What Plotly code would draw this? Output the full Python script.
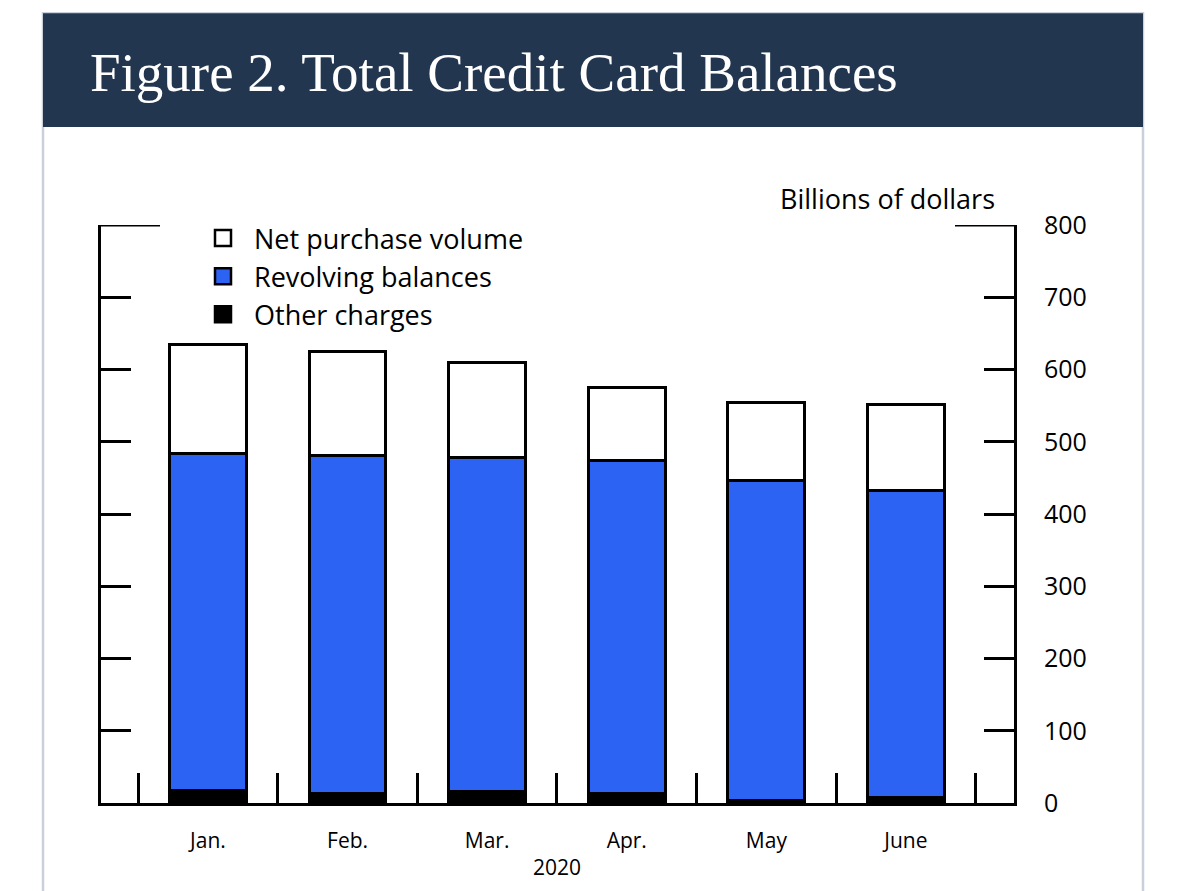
"""Figure 2. Total Credit Card Balances, stacked bars.
"""

import plotly.graph_objects as go

months = ['Jan.', 'Feb.', 'Mar.', 'Apr.', 'May', 'June']
other_charges = [17, 13, 16, 13, 3, 7]
revolving = [467, 468, 462, 461, 444, 426]
net_purchase = [151, 144, 132, 101, 107, 118]
y_ticks = [0, 100, 200, 300, 400, 500, 600, 700, 800]

BLUE = '#2d63f2'
NAVY = '#22364f'
FONT = 'Open Sans, sans-serif'

# page pixels of the plot area (page body has an 8px margin)
OFF = 8
W, H = 1200, 891
L, R, T, B = 101, 1014, 225, 803.5


def px(x):
    return (x - L) / (R - L)


def py(y):
    return (B - y) / (B - T)


fig = go.Figure()
fig.add_bar(x=months, y=other_charges, name='Other charges', showlegend=False,
            marker=dict(color='black', line=dict(color='black', width=3)))
fig.add_bar(x=months, y=revolving, name='Revolving balances', showlegend=False,
            marker=dict(color=BLUE, line=dict(color='black', width=3)))
fig.add_bar(x=months, y=net_purchase, name='Net purchase volume', showlegend=False,
            marker=dict(color='white', line=dict(color='black', width=3)))

# legend entries with larger square keys
for name, color in [('Net purchase volume', 'white'), ('Revolving balances', BLUE),
                    ('Other charges', 'black')]:
    fig.add_scatter(x=[None], y=[None], mode='markers', name=name,
                    marker=dict(symbol='square', size=21, color=color,
                                line=dict(color='black', width=2.5)))

fig.update_layout(
    width=W, height=H,
    margin=dict(l=L - OFF, r=W - (R - OFF), t=T - OFF, b=H - (B - OFF), pad=0),
    paper_bgcolor='white', plot_bgcolor='white',
    barmode='stack', bargap=0.45,
    font=dict(family=FONT, color='black'),
    legend=dict(x=px(192), y=py(214), xanchor='left', yanchor='top', traceorder='normal',
                font=dict(size=27), bgcolor='rgba(0,0,0,0)', itemwidth=52,
                tracegroupgap=0),
    showlegend=True,
)
fig.update_xaxes(
    range=[-0.766, 5.774], showline=True, linecolor='black', linewidth=3,
    ticks='inside', tickson='boundaries', ticklen=30, tickwidth=2.5, tickcolor='black',
    tickfont=dict(size=21), ticklabelstandoff=17, showgrid=False, zeroline=False,
)
fig.update_yaxes(
    range=[0, 800], side='right', tickvals=y_ticks, showline=True, mirror='ticks',
    linecolor='black', linewidth=3, ticks='inside', ticklen=30, tickwidth=3,
    tickcolor='black', tickfont=dict(size=25), ticklabelstandoff=22,
    showgrid=False, zeroline=False,
)

shapes = [
    # card border and header band
    dict(type='rect', xref='paper', yref='paper', x0=px(43), x1=px(1143), y0=py(905), y1=py(13),
         line=dict(color='#c9d0da', width=2.5), fillcolor='white', layer='below'),
    dict(type='rect', xref='paper', yref='paper', x0=px(43), x1=px(1143), y0=py(127), y1=py(13),
         line=dict(width=0), fillcolor=NAVY, layer='below'),
    # long top ticks at 800
    dict(type='line', xref='paper', yref='y', x0=0, x1=px(160), y0=800, y1=800,
         line=dict(color='black', width=3)),
    dict(type='line', xref='paper', yref='y', x0=px(955), x1=1, y0=800, y1=800,
         line=dict(color='black', width=3)),
]
fig.update_layout(shapes=shapes)

fig.add_annotation(text='Figure 2. Total Credit Card Balances', xref='paper', yref='paper',
                   x=px(88), y=py(72), xanchor='left', yanchor='middle', showarrow=False,
                   font=dict(family='Liberation Serif, serif', size=55, color='white'))
fig.add_annotation(text='Billions of dollars', xref='paper', yref='paper',
                   x=px(997), y=py(198), xanchor='right', yanchor='middle', showarrow=False,
                   font=dict(size=27))
fig.add_annotation(text='2020', xref='x', yref='paper', x=2.5, y=py(868),
                   xanchor='center', yanchor='middle', showarrow=False, font=dict(size=21))

fig.write_html('out.html')
